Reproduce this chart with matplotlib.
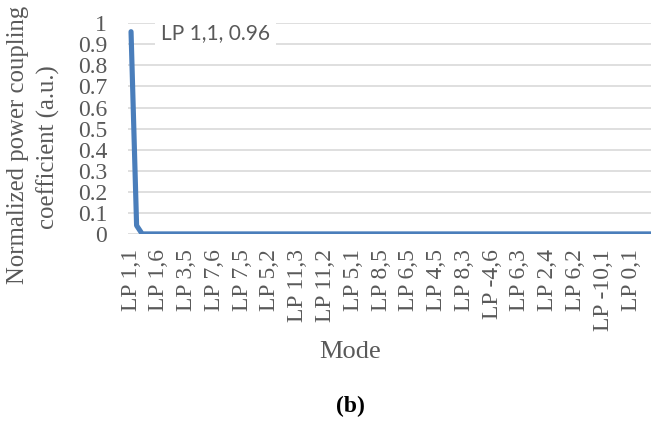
import matplotlib
matplotlib.use("Agg")
import matplotlib.pyplot as plt

plt.rcParams["font.family"] = ["Liberation Serif", "DejaVu Serif"]

# mode labels shown on the axis (every 5th category)
mode_labels = ["LP 1,1", "LP 1,6", "LP 3,5", "LP 7,6", "LP 7,5", "LP 5,2",
               "LP 11,3", "LP 11,2", "LP 5,1", "LP 8,5", "LP 6,5", "LP 4,5",
               "LP 8,3", "LP -4,6", "LP 6,3", "LP 2,4", "LP 6,2", "LP -10,1",
               "LP 0,1"]
label_step = 5

# normalized coupling coefficient for each mode, in plotted order
coupling = [0.96, 0.04, 0.0, 0.0, 0.0, 0.0, 0.0, 0.0, 0.0, 0.0,
            0.0, 0.0, 0.0, 0.0, 0.0, 0.0, 0.0, 0.0, 0.0, 0.0,
            0.0, 0.0, 0.0, 0.0, 0.0, 0.0, 0.0, 0.0, 0.0, 0.0,
            0.0, 0.0, 0.0, 0.0, 0.0, 0.0, 0.0, 0.0, 0.0, 0.0,
            0.0, 0.0, 0.0, 0.0, 0.0, 0.0, 0.0, 0.0, 0.0, 0.0,
            0.0, 0.0, 0.0, 0.0, 0.0, 0.0, 0.0, 0.0, 0.0, 0.0,
            0.0, 0.0, 0.0, 0.0, 0.0, 0.0, 0.0, 0.0, 0.0, 0.0,
            0.0, 0.0, 0.0, 0.0, 0.0, 0.0, 0.0, 0.0, 0.0, 0.0,
            0.0, 0.0, 0.0, 0.0, 0.0, 0.0, 0.0, 0.0, 0.0, 0.0,
            0.0, 0.0, 0.0, 0.0, 0.0]
yticks = [0, 0.1, 0.2, 0.3, 0.4, 0.5, 0.6, 0.7, 0.8, 0.9, 1]

gray = "#595959"

fig = plt.figure(figsize=(6.51, 4.23), dpi=100)
ax = fig.add_axes([0.1966, 0.447, 0.8034, 0.498])

x = list(range(len(coupling)))
ax.plot(x, coupling, color="#4A7EBB", lw=3.7, solid_joinstyle="round",
        solid_capstyle="round", zorder=3)

ax.set_xlim(-0.55, 93.6)
ax.set_ylim(0, 1)
ax.set_yticks(yticks)
ax.set_yticklabels([f"{v:g}" for v in yticks])
ax.set_xticks(list(range(0, len(mode_labels) * label_step, label_step)))
ax.set_xticklabels(mode_labels, rotation=90)
ax.tick_params(axis="both", length=0, labelsize=17, labelcolor=gray)
ax.tick_params(axis="x", pad=11)
ax.tick_params(axis="y", pad=15)

ax.grid(axis="y", color="#d9d9d9", lw=1.2)
ax.set_axisbelow(True)
for s in ax.spines.values():
    s.set_visible(False)

ax.text(15.2, 0.955, "LP 1,1, 0.96", fontfamily="Lato", fontsize=15,
        color=gray, ha="center", va="center", zorder=4,
        bbox=dict(facecolor="white", edgecolor="none", pad=4))

fig.text(0.027, 0.657, "Normalized power coupling", rotation=90,
         fontsize=17.8, color=gray, ha="center", va="center")
fig.text(0.074, 0.652, "coefficient (a.u.)", rotation=90,
         fontsize=17.8, color=gray, ha="center", va="center")

fig.text(0.5376, 1 - 352 / 423, "Mode", fontsize=19,
         color=gray, ha="center", va="center")
fig.text(0.5376, 1 - 406 / 423, "(b)", fontsize=17,
         fontweight="bold", color="black", ha="center", va="center")

fig.savefig("out.png", dpi=100)
